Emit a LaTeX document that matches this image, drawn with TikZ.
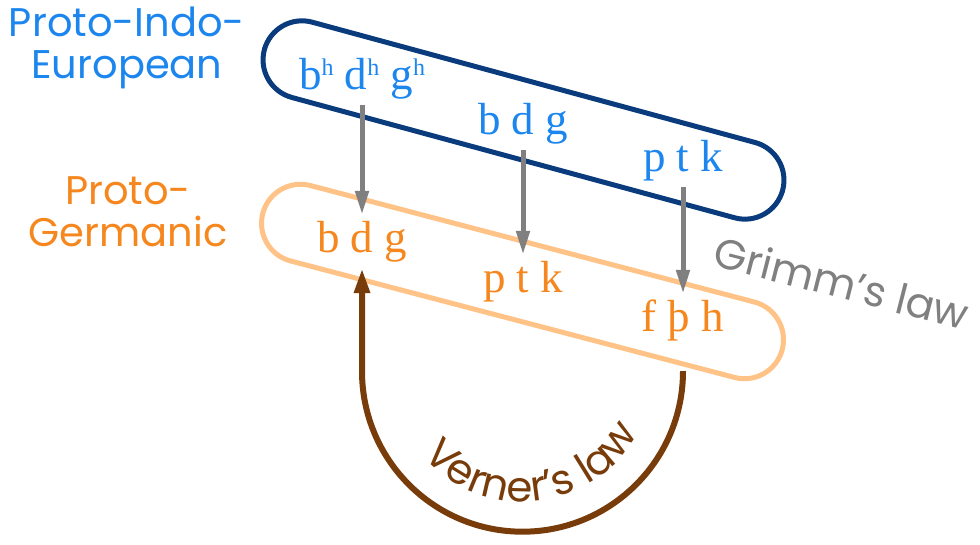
\documentclass[tikz,border=0pt]{standalone}
\usepackage{fontspec}
\setmainfont{Liberation Serif}
\setsansfont{Poppins}
\usetikzlibrary{calc, arrows.meta, decorations.text}
\definecolor{pieblue}{RGB}{28,134,238}
\definecolor{pienavy}{RGB}{10,60,125}
\definecolor{pgorange}{RGB}{245,135,30}
\definecolor{pgpeach}{RGB}{255,195,135}
\definecolor{grimmgray}{RGB}{128,128,128}
\definecolor{vbrown}{RGB}{120,60,10}
\newcommand{\asp}[1]{\raisebox{14pt}{\fontsize{24}{24}\selectfont #1}}
\tikzset{ band/.style = { draw
                       , line width      = 5pt
                       , rounded corners = 39pt
                       , minimum width   = 537pt
                       , minimum height  = 78pt
                       , inner sep       = 0pt
                       },
            ph/.style = { font        = \fontsize{45}{45}\selectfont
                        , anchor      = base
                        , text height = 34pt
                        , text depth  = 11pt
                        , inner sep   = 4pt
                        },
            lang/.style = { font      = \sffamily\fontsize{40}{42}\selectfont
                          , align     = center
                          , inner sep = 0pt
                          },
            grimm/.style = { draw = grimmgray
                           , line width = 5pt
                           , -{Triangle[width=13pt, length=24pt]}
                           },
            verner/.style = { draw = vbrown
                            , line width = 6pt
                            , -{Triangle[width=15pt, length=25pt]}
                            }
          }
\begin{document}
\begin{tikzpicture}[x=1pt, y=1pt]
    \useasboundingbox (0,0) rectangle (980,545);
    % the two bands
    \node[band, draw=pienavy, rotate=-15.2] (pieband) at (523.5,425) {};
    \node[band, draw=pgpeach, rotate=-14.7] (pgband) at (522.5,263.5) {};
    % language names
    \node[lang, text=pieblue] (pie) at (127,497) {Proto-Indo-\\European};
    \node[lang, text=pgorange] (pg) at (128,333) {Proto-\\Germanic};
    % sounds
    \node[ph, text=pieblue] (pie1) at (362,455) {b\asp{h} d\asp{h} g\asp{h}};
    \node[ph, text=pieblue] (pie2) at (523,410) {b d g};
    \node[ph, text=pieblue] (pie3) at (683,373) {p t k};
    \node[ph, text=pgorange] (pg1) at (362,292) {b d g};
    \node[ph, text=pgorange] (pg2) at (523,252) {p t k};
    \node[ph, text=pgorange] (pg3) at (683,213) {f þ h};
    % Grimm
    \draw[grimm] (pie1.south) -- (pg1.north);
    \draw[grimm] (pie2.south) -- (pg2.north);
    \draw[grimm] (pie3.south) -- (pg3.north);
    \node[font=\sffamily\fontsize{42}{42}\selectfont, text=grimmgray, anchor=base,
          rotate=-14.3] (glaw) at (838,247) {Grimm’s law};
    % Verner
    \draw[verner] ($(pg3.south)+(0,-24)$) arc[start angle=0, end angle=-180, radius=160.5]
        -- (pg1.south);
    \coordinate (vc) at (522.5,174);
    \path[decorate, decoration={text along path, text align=center, text color=vbrown,
          text={|\sffamily\fontsize{42}{42}\selectfont|Verner's law}}]
        (vc) ++(-146:131) arc[start angle=-146, end angle=-22, radius=131];
\end{tikzpicture}
\end{document}
